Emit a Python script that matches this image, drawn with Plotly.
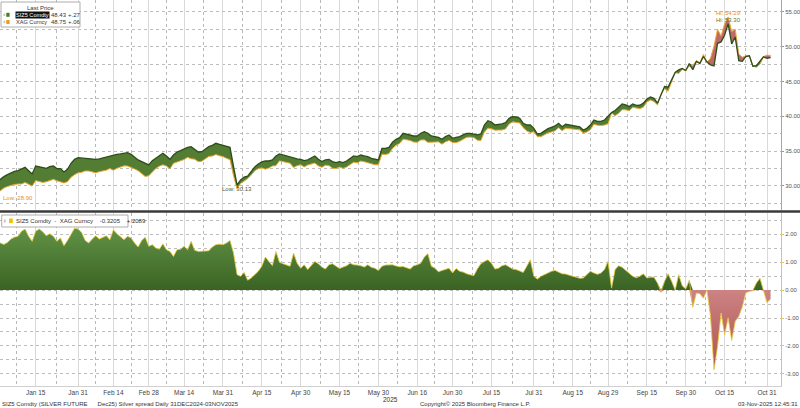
import numpy as np
import pandas as pd
import plotly.graph_objects as go

# trading days shown on the chart (31 Dec 2024 .. 3 Nov 2025)
dates = pd.bdate_range("2024-12-31", "2025-11-03")

# SIZ5 Comdty (Dec25 silver future), daily close
siz5 = [
    30.56, 30.99, 31.34, 31.62, 31.91, 32.11, 32.20, 32.39, 32.68, 32.20,
    31.72, 32.87, 32.78, 32.59, 32.54, 32.78, 32.87, 32.49, 32.49, 32.01,
    32.39, 33.26, 33.83, 34.07, 34.02, 33.93, 33.83, 33.83, 33.83, 33.88,
    34.02, 34.21, 34.31, 34.41, 34.55, 34.60, 34.69, 34.79, 34.55, 34.12,
    33.74, 33.50, 33.26, 33.02, 33.64, 34.02, 34.31, 34.69, 34.31, 33.83,
    34.45, 34.88, 35.08, 35.36, 35.55, 35.65, 35.27, 34.88, 34.93, 35.27,
    35.65, 35.84, 36.13, 35.99, 35.84, 35.65, 35.55, 32.78, 30.13, 30.86,
    31.29, 31.40, 32.00, 32.73, 33.16, 33.45, 33.59, 33.59, 33.74, 34.30,
    34.60, 34.45, 34.31, 34.12, 33.98, 33.88, 33.83, 33.64, 33.74, 33.98,
    34.31, 33.83, 33.50, 33.74, 33.83, 33.50, 33.35, 33.50, 33.35, 33.59,
    33.98, 34.31, 34.21, 34.45, 34.31, 34.21, 33.98, 33.83, 33.74, 35.41,
    35.41, 35.55, 36.30, 36.70, 36.94, 37.57, 37.42, 37.28, 37.18, 37.18,
    37.57, 37.81, 37.57, 37.18, 37.09, 36.99, 36.70, 37.09, 37.33, 36.85,
    36.99, 37.09, 37.33, 37.57, 37.57, 37.47, 37.33, 37.47, 38.76, 39.38,
    39.19, 38.76, 38.81, 38.91, 39.10, 39.72, 39.96, 39.91, 39.72, 39.00,
    38.76, 38.76, 38.28, 37.47, 37.57, 37.90, 38.24, 38.43, 38.62, 39.00,
    38.52, 38.86, 38.76, 38.62, 38.52, 38.48, 38.04, 38.28, 38.76, 39.48,
    39.29, 39.29, 39.48, 39.96, 40.54, 40.83, 41.31, 41.79, 41.64, 41.40,
    41.79, 41.59, 41.60, 41.90, 42.50, 42.80, 42.60, 41.90, 43.10, 44.30,
    44.20, 45.30, 46.30, 46.70, 46.90, 46.60, 47.60, 46.70, 47.90, 47.60,
    48.60, 47.80, 47.40, 47.25, 50.50, 50.70, 51.70, 53.30, 50.40, 51.40,
    48.00, 47.90, 48.60, 48.70, 47.20, 47.30, 47.90, 48.55, 48.35, 48.43,
]

# SIZ5 Comdty - XAG Curncy spread
spread = [
    1.66, 1.68, 1.63, 1.70, 1.82, 1.89, 1.92, 2.10, 2.18, 1.92,
    1.74, 2.10, 2.18, 2.08, 1.94, 2.01, 1.92, 1.74, 1.86, 1.58,
    1.77, 2.01, 2.21, 2.18, 2.06, 1.77, 1.68, 1.82, 1.94, 1.82,
    1.89, 1.94, 1.80, 2.15, 2.01, 1.92, 1.80, 1.92, 1.86, 1.68,
    1.54, 1.77, 1.89, 1.56, 1.62, 1.50, 1.46, 1.65, 1.44, 1.38,
    1.20, 1.44, 1.46, 1.56, 1.44, 1.74, 1.42, 1.38, 1.38, 1.38,
    1.40, 1.54, 1.62, 1.64, 1.62, 1.68, 1.77, 1.32, 0.55, 0.49,
    0.63, 0.35, 0.43, 0.55, 0.67, 0.85, 1.18, 1.02, 0.87, 1.38,
    0.99, 0.94, 0.90, 0.85, 1.32, 0.96, 0.78, 0.90, 0.73, 0.87,
    1.02, 0.94, 0.82, 0.75, 0.90, 0.94, 0.85, 0.77, 0.82, 0.87,
    0.96, 0.90, 0.89, 0.87, 0.82, 0.90, 0.81, 0.78, 0.70, 0.85,
    0.89, 0.90, 0.90, 0.86, 0.83, 0.84, 0.78, 0.75, 0.87, 0.90,
    0.96, 1.18, 1.30, 0.85, 0.78, 0.65, 0.70, 0.75, 0.78, 0.61,
    0.77, 0.67, 0.64, 0.58, 0.55, 0.51, 0.75, 0.94, 1.02, 1.08,
    0.96, 0.75, 0.78, 0.87, 0.90, 0.82, 0.75, 0.73, 0.67, 0.63,
    0.85, 1.08, 0.49, 0.39, 0.49, 0.55, 0.61, 0.67, 0.70, 0.63,
    0.58, 0.57, 0.52, 0.49, 0.46, 0.42, 0.43, 0.54, 0.67, 0.61,
    0.56, 0.61, 0.73, 1.03, 0.07, 0.73, 0.87, 0.81, 0.70, 0.58,
    0.49, 0.44, 0.49, 0.58, 0.43, 0.46, 0.46, 0.25, -0.08, 0.31,
    0.58, 0.31, 0.00, 0.55, 0.15, 0.04, 0.35, -0.62, -0.11, -0.13,
    -0.29, 0.00, -0.94, -2.85, -2.01, -0.82, -1.60, -0.99, -1.80, -1.12,
    -0.95, -0.60, -0.10, -0.05, -0.02, 0.25, 0.42, -0.02, -0.45, -0.32,
]

tick_dates = ["2025-01-15", "2025-01-31", "2025-02-14", "2025-02-28", "2025-03-14",
              "2025-03-31", "2025-04-15", "2025-04-30", "2025-05-15", "2025-05-30",
              "2025-06-16", "2025-06-30", "2025-07-15", "2025-07-31", "2025-08-15",
              "2025-08-29", "2025-09-15", "2025-09-30", "2025-10-15", "2025-10-31"]
tick_text = ["Jan 15", "Jan 31", "Feb 14", "Feb 28", "Mar 14", "Mar 31", "Apr 15",
             "Apr 30", "May 15", "May 30", "Jun 16", "Jun 30", "Jul 15", "Jul 31",
             "Aug 15", "Aug 29", "Sep 15", "Sep 30", "Oct 15", "Oct 31"]
minor_dates = ["2025-01-07 12:00", "2025-01-23", "2025-02-07", "2025-02-21", "2025-03-07",
               "2025-03-21 12:00", "2025-04-07 12:00", "2025-04-22 12:00", "2025-05-07 12:00",
               "2025-05-22 12:00", "2025-06-06 12:00", "2025-06-23", "2025-07-07 12:00",
               "2025-07-23", "2025-08-07 12:00", "2025-08-22", "2025-09-05 12:00",
               "2025-09-22 12:00", "2025-10-07 12:00", "2025-10-23"]

price_ticks = [30, 35, 40, 45, 50, 55]
price_labels = ["30.00", "35.00", "40.00", "45.00", "50.00", "55.00"]
spread_ticks = [-3, -2, -1, 0, 1, 2]
spread_labels = ["-3.00", "-2.00", "-1.00", "0.00", "1.00", "2.00"]

siz5 = np.array(siz5)
spread = np.array(spread)
xag = siz5 - spread          # XAG Curncy spot = future - spread
upper = np.maximum(siz5, xag)
lower = np.minimum(siz5, xag)
pos = np.clip(spread, 0, None)
neg = np.clip(spread, None, 0)

GREEN = "#527d33"
FUT_LINE = "#2f4d1b"
SPOT_LINE = "#e9a832"
RED = "#bd6a68"
YEL = "#e8c93a"
FONT = "Liberation Sans, Arial, sans-serif"

fig = go.Figure()

# top panel: band between future and spot
fig.add_trace(go.Scatter(x=dates, y=xag, xaxis="x2", yaxis="y2", mode="lines",
                         line=dict(width=0), hoverinfo="skip"))
fig.add_trace(go.Scatter(x=dates, y=upper, xaxis="x2", yaxis="y2", mode="lines",
                         line=dict(width=0), fill="tonexty", fillcolor=GREEN, hoverinfo="skip"))
fig.add_trace(go.Scatter(x=dates, y=xag, xaxis="x2", yaxis="y2", mode="lines",
                         line=dict(width=0), hoverinfo="skip"))
fig.add_trace(go.Scatter(x=dates, y=lower, xaxis="x2", yaxis="y2", mode="lines",
                         line=dict(width=0), fill="tonexty", fillcolor=RED, hoverinfo="skip"))
fig.add_trace(go.Scatter(x=dates, y=xag, xaxis="x2", yaxis="y2", mode="lines",
                         line=dict(width=1, color=SPOT_LINE)))
fig.add_trace(go.Scatter(x=dates, y=siz5, xaxis="x2", yaxis="y2", mode="lines",
                         line=dict(width=1.3, color=FUT_LINE)))

# bottom panel: spread
fig.add_trace(go.Scatter(x=dates, y=pos, mode="lines", line=dict(width=0), fill="tozeroy",
                         fillgradient=dict(type="vertical", start=0, stop=2.3,
                                           colorscale=[[0, "#3a6323"], [1, "#639447"]])))
fig.add_trace(go.Scatter(x=dates, y=neg, mode="lines", line=dict(width=0), fill="tozeroy",
                         fillgradient=dict(type="vertical", start=-3, stop=0,
                                           colorscale=[[0, "#ad4f4e"], [1, "#cc8382"]])))
fig.add_trace(go.Scatter(x=dates, y=spread, mode="lines", line=dict(width=0.8, color=YEL)))

W, H = 781, 386


def px_x(x):
    return x / W


def px_y(y):
    return (H - y) / H


xcommon = dict(type="date", range=["2024-12-31 21:30", "2025-11-05 23:00"],
               rangebreaks=[dict(bounds=["sat", "mon"])],
               tickvals=tick_dates, ticktext=tick_text,
               showgrid=True, gridcolor="#d9d9d9", gridwidth=1, zeroline=False,
               minor=dict(tickvals=minor_dates, showgrid=True, gridcolor="#b8b8b8",
                          griddash="dot", gridwidth=1))

fig.update_layout(
    width=800, height=408, margin=dict(l=0, r=19, t=0, b=22),
    paper_bgcolor="white", plot_bgcolor="white", showlegend=False, hovermode=False,
    font=dict(family=FONT, size=6, color="#444"),
    xaxis=dict(**xcommon, anchor="y", domain=[0, 1], showline=True, linecolor="#d0d0d0",
               ticks="", tickfont=dict(size=6.5, color="#444")),
    xaxis2=dict(**xcommon, anchor="y2", domain=[0, 1], matches="x", showticklabels=False),
    yaxis=dict(domain=[0, 0.448], range=[-3.43, 2.75], side="right", anchor="x",
               tickvals=spread_ticks, ticktext=spread_labels,
               showgrid=True, gridcolor="#bdbdbd", griddash="dot", zeroline=False,
               showline=True, linecolor=YEL, linewidth=1,
               ticks="outside", ticklen=2, tickcolor=YEL, tickfont=dict(size=6, color="#555"),
               minor=dict(tickvals=[-2.5, -1.5, -0.5, 0.5, 1.5, 2.5], showgrid=True,
                          gridcolor="#bdbdbd", griddash="dot")),
    yaxis2=dict(domain=[0.456, 1], range=[26.55, 56.72], side="right", anchor="x2",
                tickvals=price_ticks, ticktext=price_labels,
                showgrid=True, gridcolor="#bdbdbd", griddash="dot", zeroline=False,
                showline=True, linecolor="#a8a890", linewidth=1,
                ticks="outside", ticklen=2, tickcolor="#999", tickfont=dict(size=6, color="#555"),
                minor=dict(tickvals=[27.5, 32.5, 37.5, 42.5, 47.5, 52.5], showgrid=True,
                           gridcolor="#bdbdbd", griddash="dot")),
)

shapes = [
    # panel separator
    dict(type="line", xref="paper", yref="paper", x0=0, x1=800 / W, y0=px_y(211.5), y1=px_y(211.5),
         line=dict(color="#3a3a3a", width=2.5)),
    # top legend box
    dict(type="rect", xref="paper", yref="paper", x0=px_x(1), x1=px_x(80), y0=px_y(27), y1=px_y(2),
         fillcolor="white", line=dict(color="#9a9a9a", width=0.8)),
    dict(type="rect", xref="paper", yref="paper", x0=px_x(6.3), x1=px_x(9.6), y0=px_y(16.8), y1=px_y(12.8),
         fillcolor="#4b7d1e", line=dict(width=0)),
    dict(type="rect", xref="paper", yref="paper", x0=px_x(6.3), x1=px_x(9.6), y0=px_y(24), y1=px_y(20),
         fillcolor="#f39a1c", line=dict(width=0)),
    dict(type="rect", xref="paper", yref="paper", x0=px_x(3.5), x1=px_x(5.3), y0=px_y(16), y1=px_y(13.6),
         fillcolor="#c8c8c8", line=dict(width=0)),
    dict(type="rect", xref="paper", yref="paper", x0=px_x(3.5), x1=px_x(5.3), y0=px_y(23.2), y1=px_y(20.8),
         fillcolor="#c8c8c8", line=dict(width=0)),
    # bottom legend box
    dict(type="rect", xref="paper", yref="paper", x0=px_x(1.7), x1=px_x(128), y0=px_y(227), y1=px_y(215),
         fillcolor="white", line=dict(color="#9a9a9a", width=0.8)),
    dict(type="rect", xref="paper", yref="paper", x0=px_x(3.8), x1=px_x(5.8), y0=px_y(222.5), y1=px_y(219.5),
         fillcolor="#c8c8c8", line=dict(width=0)),
    dict(type="rect", xref="paper", yref="paper", x0=px_x(9), x1=px_x(12.8), y0=px_y(223), y1=px_y(218.5),
         fillcolor="#f0c400", line=dict(width=0)),
]
fig.update_layout(shapes=shapes)


def label(text, x, y, color="#333", anchor="left", **kw):
    fig.add_annotation(text=text, x=px_x(x), y=px_y(y), xref="paper", yref="paper",
                       xanchor=anchor, yanchor="middle", showarrow=False,
                       font=dict(family=FONT, size=kw.pop("size", 6), color=color),
                       borderpad=0, **kw)


label("Last Price", 40, 8.3, anchor="center")
label("SIZ5 Comdty", 15, 14.8, color="white", bgcolor="#111", size=5.6)
label("48.43", 50, 14.8)
label("+.27", 66.5, 14.8)
label("XAG Curncy", 15, 22.2, size=5.6)
label("48.75", 50, 22.2)
label("+.06", 66.5, 22.2)
label("SIZ5 Comdty  -  XAG Curncy    -0.3205    +.2089", 15, 221)

# footer
label("SIZ5 Comdty (SILVER FUTURE      Dec25) Silver spread Daily 31DEC2024-03NOV2025", 1, 404)
label("Copyright\u00a9 2025 Bloomberg Finance L.P.", 476, 404, anchor="center")
label("03-Nov-2025 12:45:31", 799, 404, anchor="right")
label("2025", 391, 399.5, anchor="center", size=6.5)

# high / low markers
imax = int(np.argmax(xag))
fig.add_annotation(text="Hi: %.2f" % xag[imax], x=dates[imax], y=xag[imax], xref="x2", yref="y2",
                   yanchor="bottom", showarrow=False, borderpad=0,
                   font=dict(family=FONT, size=6, color="#ef8a1f"))
fmax = int(np.argmax(siz5))
fig.add_annotation(text="Hi: %.2f" % siz5[fmax], x=dates[fmax], y=siz5[fmax], xref="x2", yref="y2",
                   yanchor="bottom", showarrow=False, borderpad=0,
                   font=dict(family=FONT, size=6, color="#5b7a2b"))
fmin = int(np.argmin(siz5))
fig.add_annotation(text="Low: %.2f" % siz5[fmin], x=dates[fmin], y=siz5[fmin], xref="x2", yref="y2",
                   yanchor="top", showarrow=False, borderpad=0,
                   font=dict(family=FONT, size=6, color="#4f5a3a"))
smin = int(np.argmin(xag))
fig.add_annotation(text="Low: %.2f" % xag[smin], x=0.002, y=xag[smin], xref="paper", yref="y2",
                   xanchor="left", yanchor="top", showarrow=False, borderpad=0,
                   font=dict(family=FONT, size=6, color="#ef8a1f"))

# page body margin would push the 800x408 figure off the window
fig.write_html("out.html", config={"displayModeBar": False},
               post_script="document.body.style.margin='0';")
